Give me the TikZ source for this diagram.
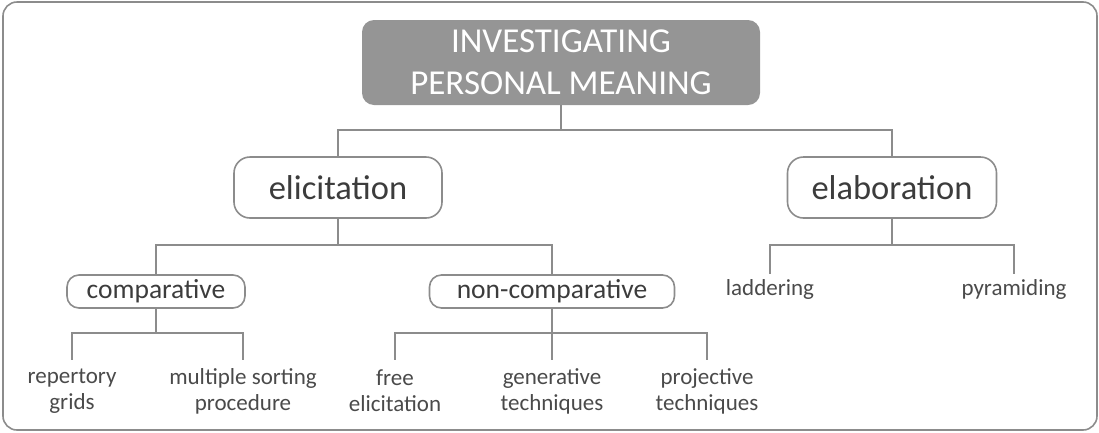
\documentclass[tikz,border=0pt]{standalone}
\usepackage{fontspec}
\setmainfont{Carlito}
\definecolor{linegray}{HTML}{8C8C8C}
\definecolor{topgray}{HTML}{959595}
\definecolor{textgray}{HTML}{3C3C3C}
\definecolor{leafgray}{HTML}{4A4A4A}
\begin{document}
\begin{tikzpicture}[x=1pt,y=-1pt,
  link/.style={draw=linegray, line width=1.6pt},
  topbox/.style={fill=topgray, rounded corners=12pt, minimum width=398pt,
    minimum height=85pt, text=white, inner sep=0pt, align=center,
    font=\fontsize{35}{42}\selectfont},
  mainbox/.style={draw=linegray, line width=1.6pt, rounded corners=16pt,
    minimum height=61pt, text=textgray, inner sep=0pt,
    font=\fontsize{34.5}{40}\selectfont},
  subbox/.style={draw=linegray, line width=1.6pt, rounded corners=12pt,
    minimum height=33pt, text=textgray, inner sep=0pt,
    font=\fontsize{27.5}{32}\selectfont},
  leaf/.style={text=leafgray, inner sep=0pt, align=center,
    font=\fontsize{23}{26}\selectfont}
]
\useasboundingbox (0,0) rectangle (1099,432);
% outer frame
\draw[link, rounded corners=14pt] (3,2) rectangle (1097,430);

% root
\node[topbox] (root) at (561,62.5) {INVESTIGATING\\PERSONAL MEANING};

% first level
\node[mainbox, minimum width=208pt] (elic) at (338,187.5) {elicitation};
\node[mainbox, minimum width=209pt] (elab) at (892,187.5) {elaboration};

% second level
\node[subbox, minimum width=178pt] (comp) at (156,291.5) {comparative};
\node[subbox, minimum width=245pt] (ncomp) at (552,291.5) {non-comparative};
\node[leaf] (ladd) at (770,289) {laddering};
\node[leaf] (pyra) at (1014,289) {pyramiding};

% leaves
\node[leaf] (rep) at (72,391) {repertory\\grids};
\node[leaf] (mult) at (243,391) {multiple sorting\\procedure};
\node[leaf] (free) at (395,391) {free\\elicitation};
\node[leaf] (gen) at (552,391) {generative\\techniques};
\node[leaf] (proj) at (707,391) {projective\\techniques};

% connectors
\coordinate (r1) at (561,130);
\draw[link] (root.south) -- (r1);
\draw[link] (r1) -| (elic.north);
\draw[link] (r1) -| (elab.north);

\coordinate (e1) at (338,245);
\draw[link] (elic.south) -- (e1);
\draw[link] (e1) -| (comp.north);
\draw[link] (e1) -| (ncomp.north);

\coordinate (b1) at (892,245);
\coordinate (ladtop) at (770,274);
\coordinate (pyrtop) at (1014,274);
\draw[link] (elab.south) -- (b1);
\draw[link] (b1) -| (ladtop);
\draw[link] (b1) -| (pyrtop);

\coordinate (c1) at (156,333);
\coordinate (reptop) at (72,360);
\coordinate (multop) at (243,360);
\draw[link] (comp.south) -- (c1);
\draw[link] (c1) -| (reptop);
\draw[link] (c1) -| (multop);

\coordinate (n1) at (552,333);
\coordinate (freetop) at (395,360);
\coordinate (gentop) at (552,360);
\coordinate (projtop) at (707,360);
\draw[link] (ncomp.south) -- (gentop);
\draw[link] (n1) -| (freetop);
\draw[link] (n1) -| (projtop);
\end{tikzpicture}
\end{document}
